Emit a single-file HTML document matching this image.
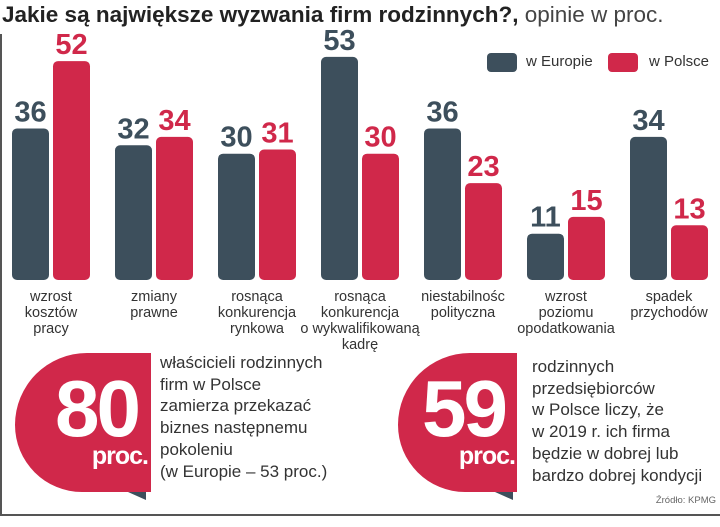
<!DOCTYPE html>
<html><head><meta charset="utf-8"><style>
body{margin:0;background:#fff;}
#wrap{position:relative;width:720px;height:527px;overflow:hidden;background:#fff;font-family:"Liberation Sans","DejaVu Sans",sans-serif;}
.t{position:absolute;white-space:nowrap;}
.lbl{position:absolute;text-align:center;font-size:14.5px;line-height:16px;color:#333;transform:translateX(-50%);white-space:nowrap;}
.bub{position:absolute;background:#d0284a;border-radius:75px 0 0 70px;}
.tri{position:absolute;width:0;height:0;border-left:18px solid transparent;border-top:8px solid #3d4f5c;}
.big{position:absolute;color:#fff;font-weight:bold;font-size:80px;line-height:78px;letter-spacing:-3px;}
.proc{position:absolute;color:#fff;font-weight:bold;font-size:25px;letter-spacing:-1px;text-align:right;}
.desc{position:absolute;font-size:17px;line-height:21.7px;color:#333;white-space:nowrap;}
</style></head><body>
<div id="wrap">
<div class="t" style="left:2px;top:2px;font-size:22.5px;color:#222;"><b>Jakie są największe wyzwania firm rodzinnych?,</b> <span style="font-weight:normal;color:#444">opinie w proc.</span></div>
<div>
<div style="position:absolute;left:487px;top:53px;width:30px;height:19px;background:#3d4f5c;border-radius:4px"></div>
<div class="t" style="left:526px;top:53px;font-size:15px;color:#333">w Europie</div>
<div style="position:absolute;left:608px;top:53px;width:30px;height:19px;background:#d0284a;border-radius:4px"></div>
<div class="t" style="left:649px;top:53px;font-size:15px;color:#333">w Polsce</div>
</div>
<svg id="chart" width="720" height="360" style="position:absolute;left:0;top:0"></svg>
<div id="labels"></div>

<div class="bub" style="left:15px;top:353px;width:136px;height:139px"></div>
<div class="tri" style="left:128px;top:492px"></div>
<div class="big" style="left:55px;top:370px">80</div>
<div class="proc" style="right:572px;top:442px">proc.</div>
<div class="desc" style="left:160px;top:352px">właścicieli rodzinnych<br>firm w Polsce<br>zamierza przekazać<br>biznes następnemu<br>pokoleniu<br>(w Europie – 53 proc.)</div>

<div class="bub" style="left:398px;top:353px;width:119px;height:139px"></div>
<div class="tri" style="left:495px;top:492px"></div>
<div class="big" style="left:422px;top:370px">59</div>
<div class="proc" style="right:205px;top:442px">proc.</div>
<div class="desc" style="left:532px;top:356px">rodzinnych<br>przedsiębiorców<br>w Polsce liczy, że<br>w 2019 r. ich firma<br>będzie w dobrej lub<br>bardzo dobrej kondycji</div>
<div class="t" style="right:4px;top:495px;font-size:9.5px;color:#666">Źródło: KPMG</div>
<div style="position:absolute;left:0;top:514px;width:720px;height:2px;background:#555"></div>
<div style="position:absolute;left:0;top:34px;width:2px;height:480px;background:#555"></div>
</div>
<script>
const categories=["wzrost<br>kosztów<br>pracy","zmiany<br>prawne","rosnąca<br>konkurencja<br>rynkowa","rosnąca<br>konkurencja<br>o wykwalifikowaną<br>kadrę","niestabilnośc<br>polityczna","wzrost<br>poziomu<br>opodatkowania","spadek<br>przychodów"];
const europe=[36,32,30,53,36,11,34];
const polska=[52,34,31,30,23,15,13];
const NS="http://www.w3.org/2000/svg";
const svg=document.getElementById('chart');
const baseY=280, scale=4.21, x0=12, step=103, bw=37, gap=4;
function yOf(v){return baseY-v*scale;}
function xOf(i,s){return x0+i*step+s*(bw+gap);}
function bar(i,s,v,color,name){
  const r=document.createElementNS(NS,'rect');
  r.setAttribute('x',xOf(i,s));r.setAttribute('y',yOf(v));
  r.setAttribute('width',bw);r.setAttribute('height',v*scale);
  r.setAttribute('rx',5);r.setAttribute('fill',color);
  
  
  svg.appendChild(r);
  const t=document.createElementNS(NS,'text');
  t.setAttribute('x',xOf(i,s)+bw/2);t.setAttribute('y',yOf(v)-7);
  t.setAttribute('text-anchor','middle');t.setAttribute('font-size','29');
  t.setAttribute('font-weight','bold');t.setAttribute('fill',color);
  t.setAttribute('font-family','Liberation Sans, sans-serif');
  t.textContent=v;
  
  
  svg.appendChild(t);
}
const lw=document.getElementById('labels');
categories.forEach((c,i)=>{
  bar(i,0,europe[i],'#3d4f5c','bar-europe');
  bar(i,1,polska[i],'#d0284a','bar-polska');
  const d=document.createElement('div');
  d.className='lbl';d.innerHTML=c;
  d.style.left=(x0+i*step+bw+gap/2)+'px';d.style.top='289px';
  
  
  lw.appendChild(d);
});
</script>
</body></html>
